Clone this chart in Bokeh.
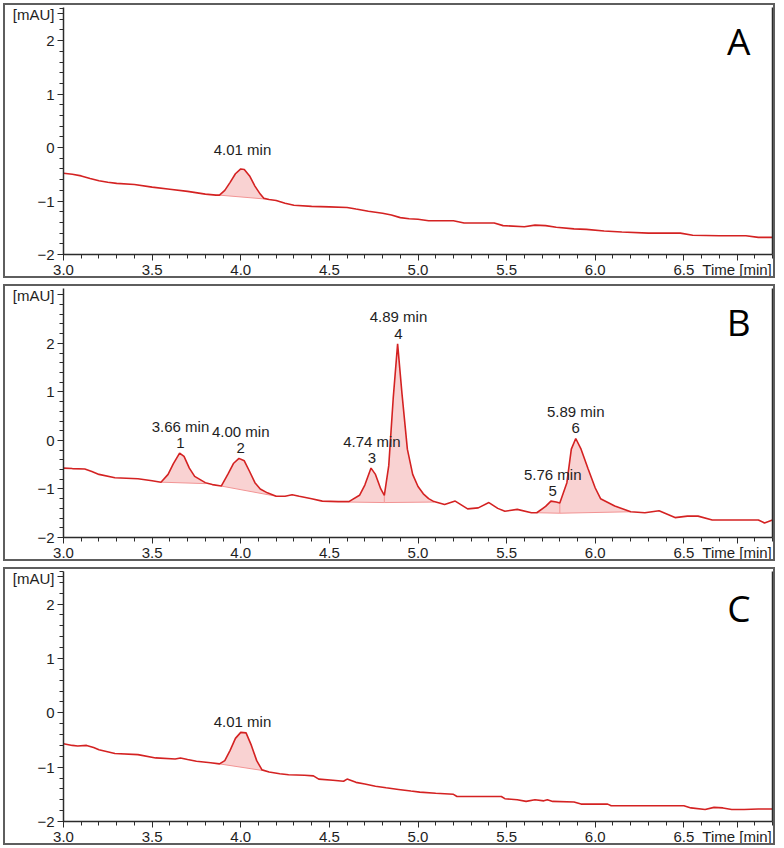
import numpy as np
from bokeh.plotting import figure
from bokeh.layouts import column
from bokeh.models import FixedTicker, LinearAxis, Label, Range1d
from bokeh.embed import file_html
from bokeh.resources import INLINE
from bokeh.core.properties import value

# ---------------- data ----------------
x_major = [3.0, 3.5, 4.0, 4.5, 5.0, 5.5, 6.0, 6.5]
x_major_labels = ["3.0", "3.5", "4.0", "4.5", "5.0", "5.5", "6.0", "6.5"]
x_title_pos = 6.8
x_title = "Time [min]"
y_major = [-2, -1, 0, 1, 2]
y_title = "[mAU]"

# Panel A
time_a = [3.00, 3.05, 3.10, 3.15, 3.20, 3.25, 3.30, 3.40, 3.50, 3.60, 3.70, 3.80, 3.86,
          3.88, 3.91, 3.94, 3.97, 4.00, 4.02, 4.05, 4.08, 4.11, 4.13,
          4.16, 4.20, 4.25, 4.30, 4.40, 4.50, 4.60, 4.65, 4.72, 4.80, 4.85, 4.90, 4.95,
          5.00, 5.06, 5.20, 5.26, 5.43, 5.48, 5.60, 5.66, 5.72, 5.78, 5.88, 5.95, 6.05,
          6.15, 6.30, 6.48, 6.55, 6.70, 6.85, 6.92, 7.00]
signal_a = [-0.48, -0.50, -0.53, -0.58, -0.62, -0.65, -0.67, -0.69, -0.74, -0.78, -0.82, -0.87, -0.89,
            -0.89, -0.80, -0.65, -0.49, -0.40, -0.41, -0.53, -0.72, -0.87, -0.95,
            -0.97, -0.99, -1.04, -1.08, -1.10, -1.11, -1.12, -1.15, -1.19, -1.23, -1.26, -1.31, -1.33,
            -1.34, -1.37, -1.37, -1.41, -1.41, -1.46, -1.48, -1.45, -1.46, -1.49, -1.52, -1.53, -1.56,
            -1.58, -1.60, -1.60, -1.64, -1.65, -1.65, -1.68, -1.68]
peak_rt_a = [4.01]
peak_start_a = [3.88]
peak_end_a = [4.13]
base_start_a = [-0.89]
base_end_a = [-0.96]
peak_num_a = []

# Panel B
time_b = [3.00, 3.05, 3.12, 3.16, 3.20, 3.29, 3.42, 3.50,
          3.55, 3.59, 3.62, 3.655, 3.68, 3.71, 3.74, 3.80,
          3.84, 3.89, 3.93, 3.96, 3.99, 4.02, 4.05, 4.08, 4.11, 4.15, 4.20,
          4.25, 4.29, 4.33, 4.40, 4.46, 4.55,
          4.61, 4.67, 4.70, 4.735, 4.76, 4.79, 4.81,
          4.835, 4.86, 4.885, 4.91, 4.94, 4.97, 5.00, 5.03, 5.06, 5.09,
          5.15, 5.21, 5.28, 5.34, 5.40, 5.45, 5.49, 5.56, 5.64,
          5.67, 5.72, 5.75, 5.78, 5.80,
          5.84, 5.865, 5.89, 5.92, 5.96, 6.00, 6.03, 6.11, 6.20,
          6.28, 6.36, 6.45, 6.52, 6.58, 6.66, 6.80, 6.92, 6.955, 7.00]
signal_b = [-0.57, -0.58, -0.59, -0.64, -0.70, -0.77, -0.79, -0.83,
            -0.86, -0.70, -0.48, -0.26, -0.33, -0.57, -0.74, -0.87,
            -0.91, -0.94, -0.68, -0.47, -0.37, -0.42, -0.64, -0.87, -1.00, -1.08, -1.15,
            -1.15, -1.12, -1.15, -1.20, -1.25, -1.26,
            -1.26, -1.13, -0.92, -0.57, -0.70, -1.00, -1.13,
            -0.52, 0.86, 1.99, 0.95, -0.18, -0.70, -0.95, -1.10, -1.20, -1.26,
            -1.32, -1.25, -1.41, -1.39, -1.28, -1.40, -1.46, -1.42, -1.49,
            -1.49, -1.36, -1.25, -1.27, -1.29,
            -0.87, -0.18, 0.04, -0.18, -0.59, -0.98, -1.20, -1.35, -1.47,
            -1.49, -1.45, -1.59, -1.56, -1.56, -1.64, -1.64, -1.64, -1.70, -1.64]
peak_rt_b = [3.66, 4.00, 4.74, 4.89, 5.76, 5.89]
peak_start_b = [3.55, 3.89, 4.61, 4.81, 5.67, 5.80]
peak_end_b = [3.80, 4.20, 4.81, 5.09, 5.80, 6.20]
base_start_b = [-0.86, -0.94, -1.27, -1.28, -1.49, -1.50]
base_end_b = [-0.89, -1.15, -1.28, -1.27, -1.50, -1.47]
peak_num_b = ["1", "2", "3", "4", "5", "6"]

# Panel C
time_c = [3.00, 3.05, 3.08, 3.13, 3.17, 3.20, 3.29, 3.42, 3.52, 3.63, 3.66, 3.70, 3.75, 3.83,
          3.88, 3.91, 3.94, 3.97, 4.00, 4.03, 4.06, 4.09, 4.12,
          4.16, 4.22, 4.27, 4.36, 4.41, 4.44, 4.52, 4.58, 4.60, 4.65, 4.70, 4.76, 4.82, 4.89,
          4.96, 5.01, 5.10, 5.20, 5.22, 5.47, 5.49, 5.56, 5.61, 5.66, 5.71, 5.73, 5.76, 5.88,
          5.92, 6.07, 6.09, 6.50, 6.54, 6.62, 6.67, 6.72, 6.77, 6.84, 6.92, 7.00]
signal_c = [-0.57, -0.60, -0.61, -0.60, -0.64, -0.68, -0.75, -0.77, -0.83, -0.85, -0.83, -0.86, -0.89, -0.92,
            -0.94, -0.88, -0.69, -0.47, -0.36, -0.37, -0.60, -0.88, -1.05,
            -1.09, -1.12, -1.14, -1.15, -1.16, -1.22, -1.24, -1.26, -1.22, -1.28, -1.31, -1.35, -1.38, -1.41,
            -1.44, -1.46, -1.48, -1.50, -1.54, -1.54, -1.58, -1.60, -1.63, -1.60, -1.62, -1.60, -1.63, -1.64,
            -1.68, -1.68, -1.71, -1.71, -1.75, -1.78, -1.74, -1.75, -1.78, -1.78, -1.77, -1.77]
peak_rt_c = [4.01]
peak_start_c = [3.88]
peak_end_c = [4.12]
base_start_c = [-0.94]
base_end_c = [-1.06]
peak_num_c = []

# ---------------- styling ----------------
RED = "#d42222"
FILL = "#f9d2d2"
BASE = "#f29494"
AXIS = "#2b2b2b"
TEXT = "#1e1e1e"
FONT = "Liberation Sans"
W = 772


def make_panel(time, signal, rts, starts, ends, b0, b1, nums, y_end, mau_tick,
               letter, letter_y, height, time_off, num_off, margin_top):
    t = np.array(time)
    s = np.array(signal)
    p = figure(width=W, height=height, x_range=Range1d(3.0, 7.0), y_range=Range1d(-2.0, y_end),
               output_backend="svg", toolbar_location=None,
               min_border_left=58, min_border_right=5, min_border_top=2, min_border_bottom=4,
               background_fill_color="white", border_fill_color="white",
               styles={"border": "2px solid #5e5e5e", "margin-left": "3px",
                       "margin-top": f"{margin_top}px"})
    p.grid.visible = False
    p.outline_line_color = None

    # peak areas and baselines
    for i in range(len(rts)):
        m = (t >= starts[i] - 1e-9) & (t <= ends[i] + 1e-9)
        px = list(t[m]) + [ends[i], starts[i]]
        py = list(s[m]) + [b1[i], b0[i]]
        p.patch(px, py, fill_color=FILL, line_color=None)
        p.segment(x0=[starts[i]], y0=[b0[i]], x1=[ends[i]], y1=[b1[i]], line_color=BASE, line_width=1)
        if i > 0 and abs(starts[i] - ends[i - 1]) < 1e-9:
            k = int(np.argmin(np.abs(t - starts[i])))
            p.segment(x0=[starts[i]], y0=[b0[i]], x1=[starts[i]], y1=[s[k]], line_color=BASE, line_width=1)

    p.line(t, s, line_color=RED, line_width=1.6)

    # peak labels
    tops = []
    for i in range(len(rts)):
        m = (t >= starts[i]) & (t <= ends[i])
        tops.append(float(s[m].max()))
    p.text(x=rts, y=tops, text=[f"{r:.2f} min" for r in rts], y_offset=-time_off,
           text_align="center", text_baseline="middle", text_font=value(FONT),
           text_font_size="15px", text_color=TEXT)
    if nums:
        p.text(x=rts, y=tops, text=nums, y_offset=-num_off,
               text_align="center", text_baseline="middle", text_font=value(FONT),
               text_font_size="15px", text_color=TEXT)

    # axes
    xt = x_major + [x_title_pos]
    p.xaxis.ticker = FixedTicker(ticks=xt, minor_ticks=[round(3.0 + 0.1 * k, 1) for k in range(41)])
    ov = {x: l for x, l in zip(x_major, x_major_labels)}
    ov[x_title_pos] = x_title
    p.xaxis.major_label_overrides = ov
    yt = y_major + [mau_tick]
    nmin = int(round((y_end + 2.0) / 0.2))
    p.yaxis.ticker = FixedTicker(ticks=yt, minor_ticks=[round(-2.0 + 0.2 * k, 1) for k in range(nmin + 1)])
    p.yaxis.major_label_overrides = {mau_tick: y_title}
    for ax in (p.xaxis[0], p.yaxis[0]):
        ax.axis_line_color = AXIS
        ax.axis_line_width = 1.5
        ax.major_tick_line_color = AXIS
        ax.minor_tick_line_color = AXIS
        ax.major_tick_in = 0
        ax.minor_tick_in = 0
        ax.major_tick_out = 6
        ax.minor_tick_out = 4
        ax.major_label_text_font = FONT
        ax.major_label_text_font_size = "15px"
        ax.major_label_text_color = TEXT
        ax.major_label_standoff = 3
    p.xaxis.major_label_standoff = 0

    right = LinearAxis(ticker=FixedTicker(ticks=[]), major_tick_out=0, minor_tick_out=0,
                       major_tick_in=0, minor_tick_in=0, major_label_standoff=0,
                       major_label_text_font_size="0px", axis_line_color=AXIS, axis_line_width=1.5)
    p.add_layout(right, "right")

    p.add_layout(Label(x=6.81, y=letter_y, text=letter, text_align="center", text_baseline="middle",
                       text_font="Open Sans", text_font_size="37px", text_color="black"))
    return p


pa = make_panel(time_a, signal_a, peak_rt_a, peak_start_a, peak_end_a, base_start_a, base_end_a,
                peak_num_a, 2.62, 2.5, "A", 2.0, 275, 19, 0, 3)
pb = make_panel(time_b, signal_b, peak_rt_b, peak_start_b, peak_end_b, base_start_b, base_end_b,
                peak_num_b, 3.13, 3.0, "B", 2.44, 277, 27, 10, 0)
pc = make_panel(time_c, signal_c, peak_rt_c, peak_start_c, peak_end_c, base_start_c, base_end_c,
                peak_num_c, 2.6, 2.5, "C", 1.93, 278, 11, 0, 0)

layout = column(pa, pb, pc, spacing=6)
open("out.html", "w").write(file_html(layout, INLINE))
